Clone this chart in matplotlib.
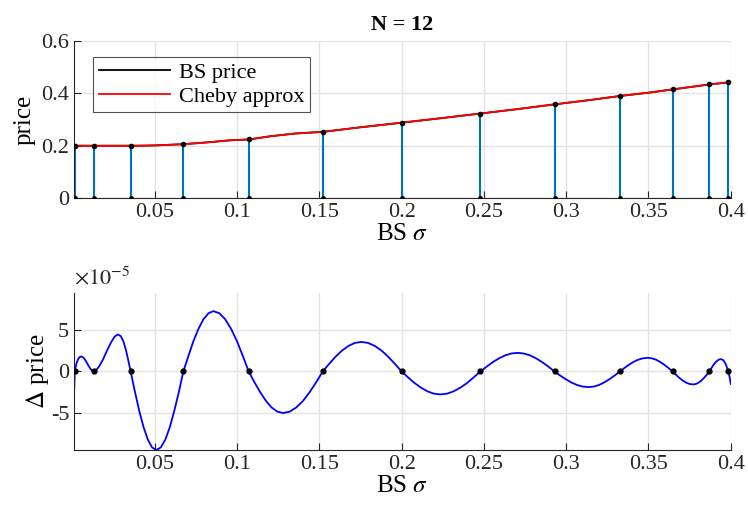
import numpy as np
from matplotlib import pyplot as plt

plt.rcParams['font.family'] = ['Liberation Serif', 'DejaVu Serif']
plt.rcParams['mathtext.fontset'] = 'stix'
plt.rcParams['axes.unicode_minus'] = False

# Chebyshev nodes
nodes = [0.00146, 0.0130, 0.0354, 0.0674, 0.1071, 0.1521, 0.2,
         0.2479, 0.2929, 0.3326, 0.3646, 0.3870, 0.39854]
node_price = [0.200, 0.200, 0.200, 0.206, 0.224, 0.253, 0.288,
              0.323, 0.358, 0.390, 0.415, 0.434, 0.442]

# BS price curve
sig = [0.001, 0.01, 0.02, 0.03, 0.04, 0.045, 0.05, 0.055, 0.06, 0.0674,
       0.075, 0.085, 0.095, 0.1071, 0.12, 0.135, 0.1521, 0.175, 0.2,
       0.225, 0.2479, 0.27, 0.2929, 0.315, 0.3326, 0.35, 0.3646, 0.387, 0.4]
price = [0.200, 0.200, 0.200, 0.200, 0.2002, 0.2006, 0.2013, 0.2025, 0.204, 0.206,
         0.2095, 0.2145, 0.2205, 0.224, 0.236, 0.2465, 0.253, 0.2705, 0.288,
         0.306, 0.323, 0.3395, 0.358, 0.375, 0.390, 0.4025, 0.415, 0.434, 0.443]

# pricing error, units of 1e-5
err_x = [0.001, 0.00146, 0.0025, 0.0035, 0.0045, 0.0055, 0.0068, 0.0082, 0.0096, 0.011,
         0.0122, 0.013, 0.0142, 0.0162, 0.0185, 0.021, 0.0235, 0.0257, 0.0276, 0.0294,
         0.031, 0.0325, 0.034, 0.0354,
         0.038, 0.0406, 0.0432, 0.0458, 0.0484, 0.051,
         0.0537, 0.0565, 0.0592, 0.0619, 0.0647, 0.0674,
         0.0705, 0.0735, 0.0766, 0.0796, 0.0827, 0.0857,
         0.0893, 0.0928, 0.0964, 0.1, 0.1035, 0.1071,
         0.1106, 0.1141, 0.1176, 0.121, 0.1245, 0.128,
         0.132, 0.136, 0.1401, 0.1441, 0.1481, 0.1521,
         0.156, 0.1599, 0.1638, 0.1677, 0.1716, 0.1755,
         0.1796, 0.1837, 0.1878, 0.1918, 0.1959, 0.2,
         0.2039, 0.2078, 0.2118, 0.2157, 0.2196, 0.2235,
         0.2276, 0.2316, 0.2357, 0.2398, 0.2438, 0.2479,
         0.2517, 0.2554, 0.2592, 0.263, 0.2667, 0.2705,
         0.2742, 0.278, 0.2817, 0.2854, 0.2892, 0.2929,
         0.2963, 0.2998, 0.3032, 0.3066, 0.3101, 0.3135,
         0.3167, 0.3199, 0.323, 0.3262, 0.3294, 0.3326,
         0.3354, 0.3382, 0.341, 0.3438, 0.3466, 0.3494,
         0.3519, 0.3545, 0.357, 0.3595, 0.3621, 0.3646,
         0.3667, 0.3688, 0.3709, 0.3729, 0.375, 0.3771,
         0.3788, 0.3804, 0.3821, 0.3837, 0.3854, 0.387,
         0.3882, 0.3893, 0.3905, 0.3917, 0.3928, 0.394,
         0.3955, 0.397, 0.39854, 0.3993, 0.4]
err = [-2.7, 0.0, 1.0, 1.5, 1.75, 1.8, 1.65, 1.25, 0.75, 0.3,
       0.05, 0.0, 0.1, 0.6, 1.4, 2.5, 3.5, 4.2, 4.45, 4.25,
       3.6, 2.6, 1.3, 0.0,
       -2.45, -4.73, -6.68, -8.18, -9.13, -9.45,
       -9.13, -8.18, -6.68, -4.73, -2.45, 0.0,
       1.88, 3.63, 5.13, 6.28, 7.0, 7.25,
       7.0, 6.28, 5.13, 3.63, 1.88, 0.0,
       -1.3, -2.5, -3.54, -4.33, -4.83, -5.0,
       -4.83, -4.33, -3.54, -2.5, -1.3, 0.0,
       0.92, 1.78, 2.51, 3.07, 3.43, 3.55,
       3.43, 3.07, 2.51, 1.78, 0.92, 0.0,
       -0.71, -1.38, -1.95, -2.39, -2.67, -2.76,
       -2.67, -2.39, -1.95, -1.38, -0.71, 0.0,
       0.58, 1.12, 1.58, 1.94, 2.16, 2.24,
       2.16, 1.94, 1.58, 1.12, 0.58, 0.0,
       -0.49, -0.94, -1.33, -1.63, -1.82, -1.88,
       -1.82, -1.63, -1.33, -0.94, -0.49, 0.0,
       0.42, 0.82, 1.16, 1.42, 1.58, 1.64,
       1.58, 1.42, 1.16, 0.82, 0.42, 0.0,
       -0.4, -0.78, -1.1, -1.35, -1.51, -1.56,
       -1.51, -1.35, -1.1, -0.78, -0.4, 0.0,
       0.38, 0.74, 1.05, 1.28, 1.43, 1.48,
       1.35, 0.85, 0.0, -0.7, -1.5]

xticks = [0.05, 0.1, 0.15, 0.2, 0.25, 0.3, 0.35, 0.4]

fig = plt.figure(figsize=(7.48, 5.12), dpi=100)
ax1 = fig.add_axes([0.099, 0.613, 0.878, 0.307])
ax2 = fig.add_axes([0.099, 0.121, 0.878, 0.307])


def style(ax):
    ax.grid(True, color='#e3e3e3', linewidth=1)
    ax.set_axisbelow(True)
    for s in ['top', 'right']:
        ax.spines[s].set_visible(False)
    for s in ['left', 'bottom']:
        ax.spines[s].set_color('#262626')
    ax.tick_params(direction='in', length=5, labelsize=16, colors='#262626',
                   labelcolor='#262626')
    ax.set_xticks(xticks)
    ax.set_xticklabels([str(t) for t in xticks])
    ax.set_xlim(0.001, 0.4)


# top
style(ax1)
l1, = ax1.plot(sig, price, color='k', linewidth=1.3, label='BS price')
l2, = ax1.plot(sig, price, color='#ff0000', linewidth=1.3, label='Cheby approx')
ax1.vlines(nodes, 0, node_price, color='#0072BD', linewidth=1.5, zorder=1)
ax1.plot(nodes, node_price, 'o', markersize=3, markeredgecolor='k',
         markerfacecolor='k', zorder=4)
ax1.plot(nodes, [0] * len(nodes), 'o', color='k', markersize=2.5, zorder=4)
ax1.set_ylim(0, 0.6)
ax1.set_yticks([0, 0.2, 0.4, 0.6])
ax1.set_yticklabels(['0', '0.2', '0.4', '0.6'])
ax1.set_ylabel('price', fontsize=18, labelpad=4)
ax1.set_xlabel(r'BS $\sigma$', fontsize=18, labelpad=1)
ax1.set_title('N = 12', fontsize=16, fontweight='bold', pad=8)
leg = ax1.legend(handles=[l1, l2], loc='upper left', bbox_to_anchor=(0.029, 0.9),
                 fontsize=16, frameon=True, fancybox=False, borderpad=0.25,
                 handlelength=3.2, handletextpad=0.4, labelspacing=0.15,
                 borderaxespad=0)
leg.get_frame().set_edgecolor('#262626')
leg.get_frame().set_linewidth(0.8)

# bottom
style(ax2)
ax2.plot(err_x, err, color='#0000ff', linewidth=1.3)
ax2.plot(nodes, [0] * len(nodes), 'o', color='k', markersize=3.5, zorder=4)
ax2.set_ylim(-9.45, 9.45)
ax2.set_yticks([-5, 0, 5])
ax2.set_yticklabels(['-5', '0', '5'])
ax2.set_ylabel(r'$\Delta$ price', fontsize=18, labelpad=0)
ax2.set_xlabel(r'BS $\sigma$', fontsize=18, labelpad=1)
ax2.text(0.0, 1.02, r'$\times 10^{-5}$', transform=ax2.transAxes, fontsize=16,
         color='#262626', ha='left', va='bottom')

fig.savefig('out.png', dpi=100)
